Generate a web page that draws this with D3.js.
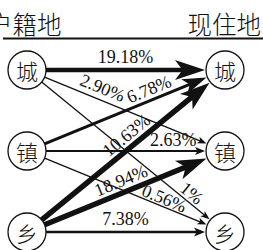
<!DOCTYPE html>
<html><head><meta charset="utf-8">
<script src="https://cdn.jsdelivr.net/npm/d3@7"></script>
<style>html,body{margin:0;padding:0;background:#fff;overflow:hidden}</style>
</head><body>
<svg id="c" width="263" height="250"></svg>
<script>
// ---- data ----
const places = ["城", "镇", "乡"];
const columns = ["户籍地", "现住地"];
const flowFrom = ["城", "城", "城", "镇", "镇", "镇", "乡", "乡", "乡"];
const flowTo   = ["城", "镇", "乡", "城", "镇", "乡", "城", "镇", "乡"];
const flowValues = [19.18, 2.90, 1, 6.78, 2.63, 0.56, 10.63, 18.94, 7.38];
const flowLabels = ["19.18%", "2.90%", "1%", "6.78%", "2.63%", "0.56%", "10.63%", "18.94%", "7.38%"];

// ---- styles (per flow) ----
const strokeW = [4.5, 1.3, 1.3, 3, 2, 1.3, 5.5, 5.5, 2.5];
const headL   = [30, 9, 9, 24, 10, 9, 30, 30, 11];
const headW   = [10, 3.5, 3.5, 8, 4, 3.5, 10, 10, 4.5];
const labelT  = [0.5, 0.33, 0.86, 0.67, 0.8, 0.72, 0.55, 0.5, 0.5];
const labelOff = [13, 12, 9, 11, 11, 8, 12, 12, 13];

const svg = d3.select("#c");
const x = d3.scalePoint().domain(columns).range([27, 225]);
const y = d3.scalePoint().domain(places).range([70, 232]);
const R = 19;

// header
svg.append("text").attr("x", -12).attr("y", 34).text(columns[0])
  .attr("font-family", "Noto Sans CJK SC").attr("font-weight", 300).attr("font-size", 24.5).attr("fill", "#111");
svg.append("text").attr("x", 261).attr("y", 34).attr("text-anchor", "end").text(columns[1])
  .attr("font-family", "Noto Sans CJK SC").attr("font-weight", 300).attr("font-size", 24.5).attr("fill", "#111");
svg.append("line").attr("x1", 3).attr("x2", 263).attr("y1", 38.5).attr("y2", 38.5)
  .attr("stroke", "#111").attr("stroke-width", 2);

const flows = flowValues.map((v, i) => {
  const x0 = x(columns[0]), y0 = y(flowFrom[i]);
  const x1 = x(columns[1]), y1 = y(flowTo[i]);
  const dx = x1 - x0, dy = y1 - y0, len = Math.hypot(dx, dy);
  const ux = dx / len, uy = dy / len;
  return {
    i, v, label: flowLabels[i],
    sx: x0 + ux * R, sy: y0 + uy * R,
    tx: x1 - ux * (R + 1), ty: y1 - uy * (R + 1),
    ux, uy, ang: Math.atan2(dy, dx) * 180 / Math.PI
  };
});

// lines
svg.selectAll("line.flow").data(flows).join("line").attr("class", "flow")
  .attr("x1", d => d.sx).attr("y1", d => d.sy)
  .attr("x2", d => d.tx - d.ux * headL[d.i] * 0.7)
  .attr("y2", d => d.ty - d.uy * headL[d.i] * 0.7)
  .attr("stroke", "#111").attr("stroke-width", d => strokeW[d.i]);

// arrowheads
svg.selectAll("path.head").data(flows).join("path").attr("class", "head")
  .attr("d", d => {
    const L = headL[d.i], W = headW[d.i];
    return `M0,0 L${-L},${-W} L${-L * 0.75},0 L${-L},${W} Z`;
  })
  .attr("transform", d => `translate(${d.tx},${d.ty}) rotate(${d.ang})`)
  .attr("fill", "#111");

// labels
svg.selectAll("text.lab").data(flows).join("text").attr("class", "lab")
  .attr("transform", d => {
    const t = labelT[d.i];
    const px = d.sx + (d.tx - d.sx) * t, py = d.sy + (d.ty - d.sy) * t;
    const nx = d.uy, ny = -d.ux; // upward normal
    const o = labelOff[d.i];
    return `translate(${px + nx * o},${py + ny * o}) rotate(${d.ang})`;
  })
  .attr("text-anchor", "middle").attr("dominant-baseline", "central")
  .attr("font-family", "Liberation Serif").attr("font-size", 18).attr("fill", "#111")
  .text(d => d.label);

// nodes
const nodes = [];
columns.forEach(c => places.forEach(p => nodes.push({ c, p })));
const g = svg.selectAll("g.node").data(nodes).join("g").attr("class", "node")
  .attr("transform", d => `translate(${x(d.c)},${y(d.p)})`);
g.append("circle").attr("r", R).attr("fill", "#fff").attr("stroke", "#111").attr("stroke-width", 1.3);
g.append("text").text(d => d.p).attr("text-anchor", "middle").attr("dominant-baseline", "central")
  .attr("font-family", "Noto Sans CJK SC").attr("font-weight", 300).attr("font-size", 22).attr("fill", "#111");
</script>
</body></html>
